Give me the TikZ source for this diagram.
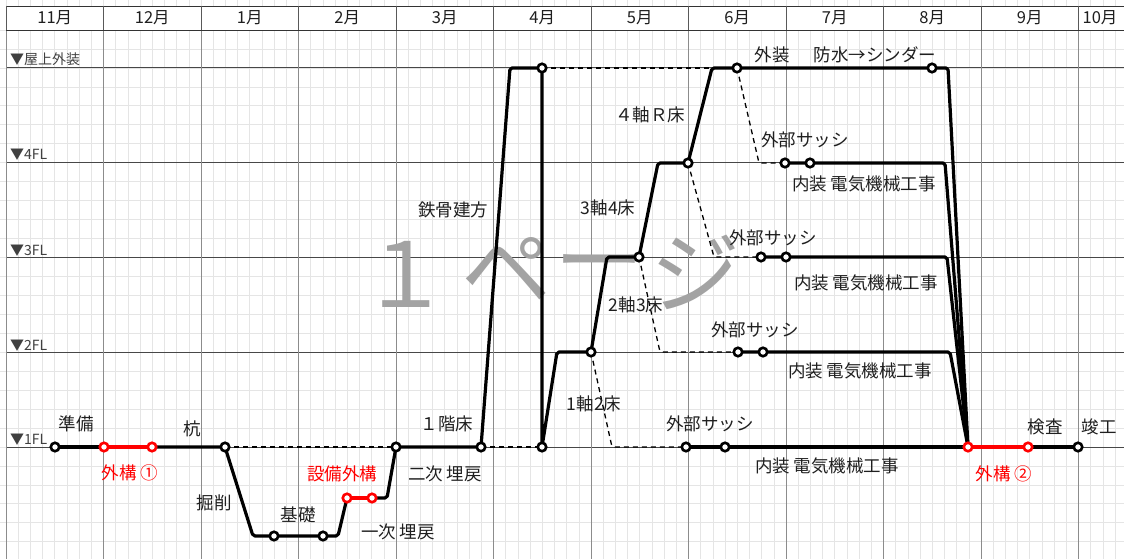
\documentclass[tikz,border=0pt]{standalone}
\usepackage{fontspec}
\setmainfont{Noto Sans CJK JP}
\begin{document}
\begin{tikzpicture}[x=1pt,y=-1pt,
  every node/.style={inner sep=0pt},
  minor/.style={draw=black!10, line width=0.6pt},
  major/.style={draw=black!45, line width=0.8pt},
  floorline/.style={draw=black!72, line width=0.8pt},
  pt/.style={circle, draw=black, fill=white, line width=2.6pt, minimum size=8.5pt, inner sep=0pt},
  rpt/.style={pt, draw=red},
  mainline/.style={line width=3.2pt, line join=round, line cap=round, rounded corners=2pt},
  redline/.style={mainline, draw=red},
  dashline/.style={line width=1.3pt, dash pattern=on 5pt off 4pt, rounded corners=3pt},
  lbl/.style={font=\fontsize{17.5}{17.5}\selectfont, text=black!88},
  rlbl/.style={lbl, text=red},
  lvl/.style={font=\fontsize{14}{14}\selectfont, text=black!75, anchor=base west},
  mon/.style={font=\fontsize{16.5}{16.5}\selectfont, text=black!88},
  wm/.style={font=\fontsize{90}{90}\selectfont, text=black!36}
]
\useasboundingbox (0,0) rectangle (1124,559);
\fill[white] (0,0) rectangle (1124,559);
% minor grid
\foreach \i in {0,...,92} \draw[minor] ({6+12.1875*\i},0) -- ({6+12.1875*\i},559);
\foreach \j in {0,...,28} \draw[minor] (0,{30+18.95*\j}) -- (1124,{30+18.95*\j});
% floor lines
\foreach \j in {2,7,12,17,22} \draw[floorline] (6,{30+18.95*\j}) -- (1124,{30+18.95*\j});
% month lines
\foreach \k in {0,...,11} \draw[major] ({6+97.5*\k},6) -- ({6+97.5*\k},559);
% header
\fill[white] (6,6) rectangle (1124,30);
\draw[black!80, line width=0.9pt] (6,6) -- (1124,6) (6,30) -- (1124,30);
\foreach \k in {0,...,11} \draw[black!65, line width=0.8pt] ({6+97.5*\k},6) -- ({6+97.5*\k},30);
\foreach \m/\k in {11月/0,12月/1,1月/2,2月/3,3月/4,4月/5,5月/6,6月/7,7月/8,8月/9,9月/10}
  \node[mon] (m\k) at ({54.75+97.5*\k},18) {\m};
\node[mon] (m11) at (1100,18) {10月};

% watermark
\node[wm] (w1) at (405,274) {１};
\node[wm] (w2) at (506,270) {ペ};
\node[wm] (w3) at (599,274) {ー};
\node[wm] (w4) at (695,272) {ジ};

% level labels
\node[lvl] (l5) at (10,65) {▼屋上外装};
\node[lvl] (l4) at (10,160) {▼4FL};
\node[lvl] (l3) at (10,255) {▼3FL};
\node[lvl] (l2) at (10,350) {▼2FL};
\node[lvl] (l1) at (10,444) {▼1FL};

% points
\coordinate (p1) at (55,447);
\coordinate (r1) at (104,447);
\coordinate (r2) at (152,447);
\coordinate (p2) at (225,447);
\coordinate (k1) at (253,536);
\coordinate (p3) at (274,536);
\coordinate (p4) at (323,536);
\coordinate (k2) at (338,536);
\coordinate (r3) at (347,498);
\coordinate (r4) at (372,498);
\coordinate (k3) at (387,498);
\coordinate (p5) at (396,447);
\coordinate (p6) at (481,447);
\coordinate (k4) at (510,68);
\coordinate (p7) at (542,68);
\coordinate (p8) at (542,447);
\coordinate (k5) at (557,352);
\coordinate (p9) at (591,352);
\coordinate (k6) at (607,257);
\coordinate (p10) at (639,257);
\coordinate (k7) at (658,163);
\coordinate (p11) at (688,163);
\coordinate (k8) at (712,68);
\coordinate (p12) at (737,68);
\coordinate (p13) at (932,68);
\coordinate (k9) at (948,68);
\coordinate (e1) at (968,447);
\coordinate (r6) at (1028,447);
\coordinate (p14) at (1078,447);
\coordinate (k10) at (759,163);
\coordinate (p15) at (785,163);
\coordinate (p16) at (810,163);
\coordinate (k11) at (945,163);
\coordinate (k12) at (714,257);
\coordinate (p17) at (761,257);
\coordinate (p18) at (786,257);
\coordinate (k13) at (947,257);
\coordinate (k14) at (660,352);
\coordinate (p19) at (738,352);
\coordinate (p20) at (763,352);
\coordinate (k15) at (950,352);
\coordinate (k16) at (612,447);
\coordinate (p21) at (686,447);
\coordinate (p22) at (725,447);

% dashed links
\draw[dashline] (p2) -- (p5);
\draw[dashline] (p6) -- (p8);
\draw[dashline] (p7) -- (k8);
\draw[dashline] (p12) -- (k10) -- (p15);
\draw[dashline] (p11) -- (k12) -- (p17);
\draw[dashline] (p10) -- (k14) -- (p19);
\draw[dashline] (p9) -- (k16) -- (p21);

% main path
\draw[mainline] (p1) -- (r1);
\draw[mainline] (r2) -- (p2) -- (k1) -- (p3) -- (p4) -- (k2) -- (r3);
\draw[mainline] (r4) -- (k3) -- (p5) -- (p6) -- (k4) -- (p7) -- (p8) -- (k5) -- (p9) -- (k6) -- (p10) -- (k7) -- (p11) -- (k8) -- (p12) -- (p13) -- (k9) -- (e1);
\draw[mainline] (p15) -- (p16) -- (k11) -- (e1);
\draw[mainline] (p17) -- (p18) -- (k13) -- (e1);
\draw[mainline] (p19) -- (p20) -- (k15) -- (e1);
\draw[mainline] (p21) -- (p22) -- (e1);
\draw[mainline] (r6) -- (p14);
\draw[redline] (r1) -- (r2);
\draw[redline] (r3) -- (r4);
\draw[redline] (e1) -- (r6);

% circles
\foreach \n in {p1,p2,p3,p4,p5,p6,p7,p8,p9,p10,p11,p12,p13,p14,p15,p16,p17,p18,p19,p20,p21,p22}
  \node[pt] (c\n) at (\n) {};
\foreach \n in {r1,r2,r3,r4,r6,e1}
  \node[rpt] (c\n) at (\n) {};

% labels
\node[lbl] (t1) at (76,424) {準備};
\node[rlbl] (t2) at (130,473) {外構 ①};
\node[lbl] (t3) at (192,429) {杭};
\node[lbl] (t4) at (214,503) {掘削};
\node[lbl] (t5) at (298,515) {基礎};
\node[rlbl] (t6) at (342,474) {設備外構};
\node[lbl] (t7) at (398,532) {一次 埋戻};
\node[lbl] (t8) at (445,474) {二次 埋戻};
\node[lbl] (t9) at (447,424) {１階床};
\node[lbl] (t10) at (453,210) {鉄骨建方};
\node[lbl] (t11) at (650,115) {４軸Ｒ床};
\node[lbl] (t12) at (608,208) {3軸4床};
\node[lbl] (t13) at (636,305) {2軸3床};
\node[lbl] (t14) at (594,404) {1軸2床};
\node[lbl] (t15) at (772,55) {外装};
\node[lbl] (t16) at (875,55) {防水→シンダー};
\node[lbl] (t17) at (805,140) {外部サッシ};
\node[lbl] (t18) at (773,238) {外部サッシ};
\node[lbl] (t19) at (755,330) {外部サッシ};
\node[lbl] (t20) at (710,424) {外部サッシ};
\node[lbl] (t21) at (864,184) {内装 電気機械工事};
\node[lbl] (t22) at (866,283) {内装 電気機械工事};
\node[lbl] (t23) at (860,371) {内装 電気機械工事};
\node[lbl] (t24) at (827,466) {内装 電気機械工事};
\node[rlbl] (t25) at (1004,474) {外構 ②};
\node[lbl] (t26) at (1045,427) {検査};
\node[lbl] (t27) at (1099,427) {竣工};
\end{tikzpicture}
\end{document}
